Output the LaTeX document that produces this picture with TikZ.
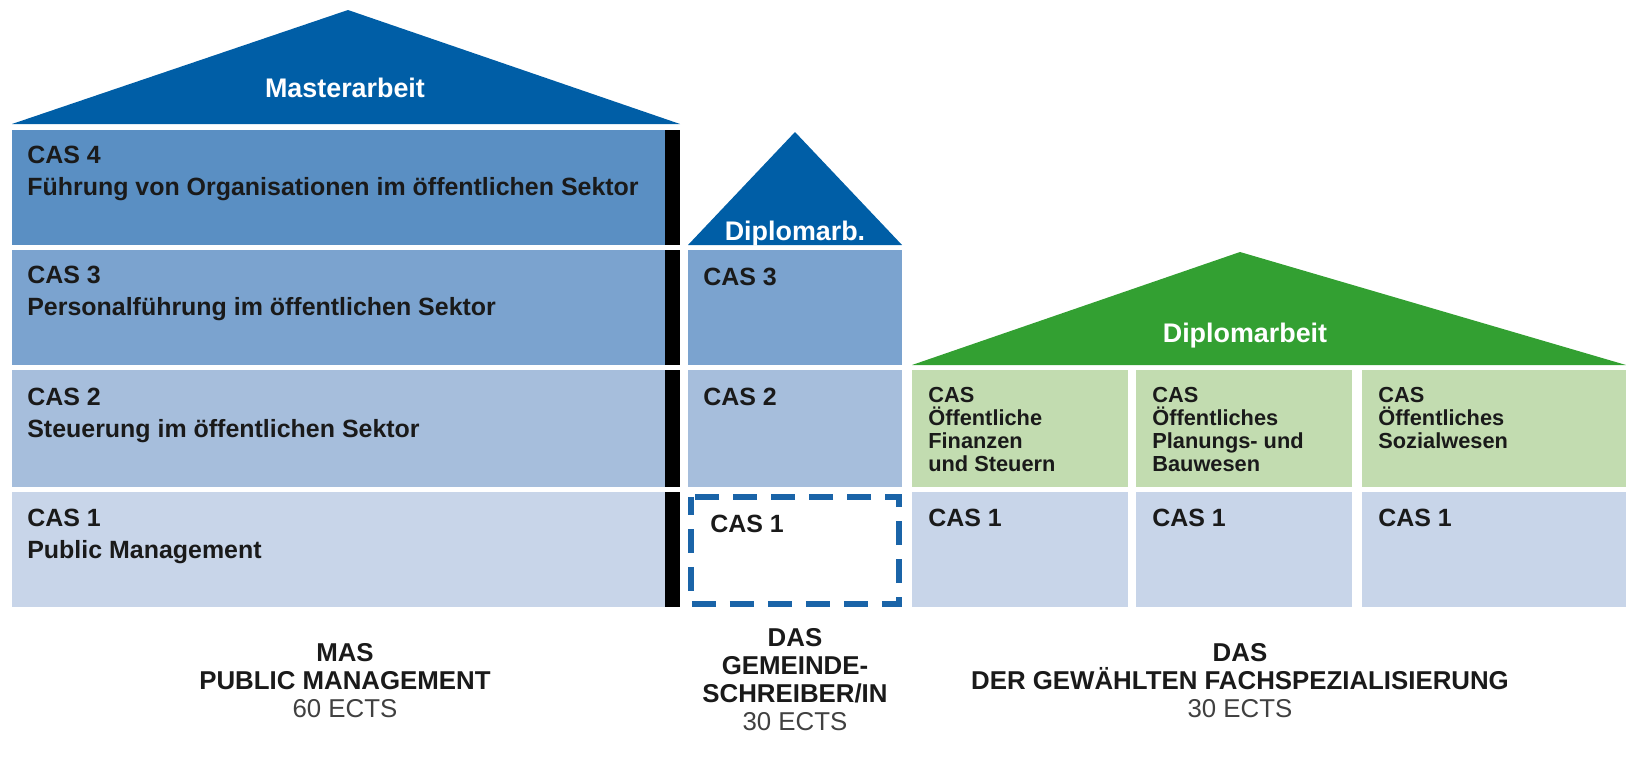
\documentclass[tikz,border=0pt]{standalone}
\usepackage{fontspec}
\setmainfont{Liberation Sans}
\definecolor{roofblue}{HTML}{005EA6}
\definecolor{roofgreen}{HTML}{33A032}
\definecolor{casfour}{HTML}{5A8FC3}
\definecolor{casthree}{HTML}{7BA3CF}
\definecolor{castwo}{HTML}{A6BEDC}
\definecolor{casone}{HTML}{C8D5E9}
\definecolor{fachgreen}{HTML}{C2DCB0}
\definecolor{dashblue}{HTML}{1A64A8}
\definecolor{textdark}{HTML}{1A1A1A}
\newcommand{\casfont}{\fontsize{14.2}{18.1}\selectfont\bfseries}
\newcommand{\fachfont}{\fontsize{12.4}{13}\selectfont\bfseries}
\newcommand{\rooffont}{\fontsize{15.3}{18}\selectfont\bfseries}
\newcommand{\bottomfont}{\fontsize{14.7}{15.9}\selectfont\bfseries}

\begin{document}
\begin{tikzpicture}[x=0.02cm,y=-0.02cm,
  castext/.style={anchor=north west,inner sep=0pt,align=left,text=textdark,font=\casfont},
  fachtext/.style={castext,font=\fachfont},
  rooftext/.style={anchor=base,inner sep=0pt,text=white,font=\rooffont},
  bottomtext/.style={anchor=north,inner sep=0pt,align=center,text=textdark,font=\bottomfont}]
\useasboundingbox (0,0) rectangle (1626,761);

% MAS column
\fill[roofblue] (12,124) -- (348,10) -- (680,124) -- cycle;
\foreach \c/\t/\b in {casfour/130/245,casthree/250/365,castwo/370/487,casone/492/607}{
  \fill[\c] (12,\t) rectangle (665,\b);
  \fill[black] (665,\t) rectangle (680,\b);
}
\node[rooftext] (master) at (345,97) {Masterarbeit};
\node[castext] (m4) at (27,146) {CAS 4\\Führung von Organisationen im öffentlichen Sektor};
\node[castext] (m3) at (27,266) {CAS 3\\Personalführung im öffentlichen Sektor};
\node[castext] (m2) at (27,388) {CAS 2\\Steuerung im öffentlichen Sektor};
\node[castext] (m1) at (27,509) {CAS 1\\Public Management};

% Gemeindeschreiber column
\fill[roofblue] (688,245) -- (795,132) -- (902,245) -- cycle;
\fill[casthree] (688,250) rectangle (902,365);
\fill[castwo] (688,370) rectangle (902,487);
\draw[dashblue,line width=0.12cm,dash pattern=on 0.48cm off 0.28cm,dash phase=0.12cm]
  (691,497) rectangle (899,604);
\node[rooftext] (dipl) at (795,240) {Diplomarb.};
\node[castext] (d3) at (703,268) {CAS 3};
\node[castext] (d2) at (703,388) {CAS 2};
\node[castext] (d1) at (710,515) {CAS 1};

% Fachspezialisierung column
\fill[roofgreen] (912,365) -- (1240,252) -- (1626,365) -- cycle;
\foreach \l/\r in {912/1128,1136/1352,1362/1626}{
  \fill[fachgreen] (\l,370) rectangle (\r,487);
  \fill[casone] (\l,492) rectangle (\r,607);
}
\node[rooftext] (diplarb) at (1245,342) {Diplomarbeit};
\node[fachtext] (f1) at (928,387) {CAS\\Öffentliche\\Finanzen\\und Steuern};
\node[fachtext] (f2) at (1152,387) {CAS\\Öffentliches\\Planungs- und\\Bauwesen};
\node[fachtext] (f3) at (1378,387) {CAS\\Öffentliches\\Sozialwesen};
\node[castext] (c1) at (928,509) {CAS 1};
\node[castext] (c2) at (1152,509) {CAS 1};
\node[castext] (c3) at (1378,509) {CAS 1};

% bottom labels
\node[bottomtext] (mas) at (345,643) {MAS\\PUBLIC MANAGEMENT\\{\mdseries\color{darkgray}60 ECTS}};
\node[bottomtext] (gs) at (795,628) {DAS\\GEMEINDE-\\SCHREIBER/IN\\{\mdseries\color{darkgray}30 ECTS}};
\node[bottomtext] (fach) at (1240,643) {DAS\\DER GEWÄHLTEN FACHSPEZIALISIERUNG\\{\mdseries\color{darkgray}30 ECTS}};
\end{tikzpicture}
\end{document}
